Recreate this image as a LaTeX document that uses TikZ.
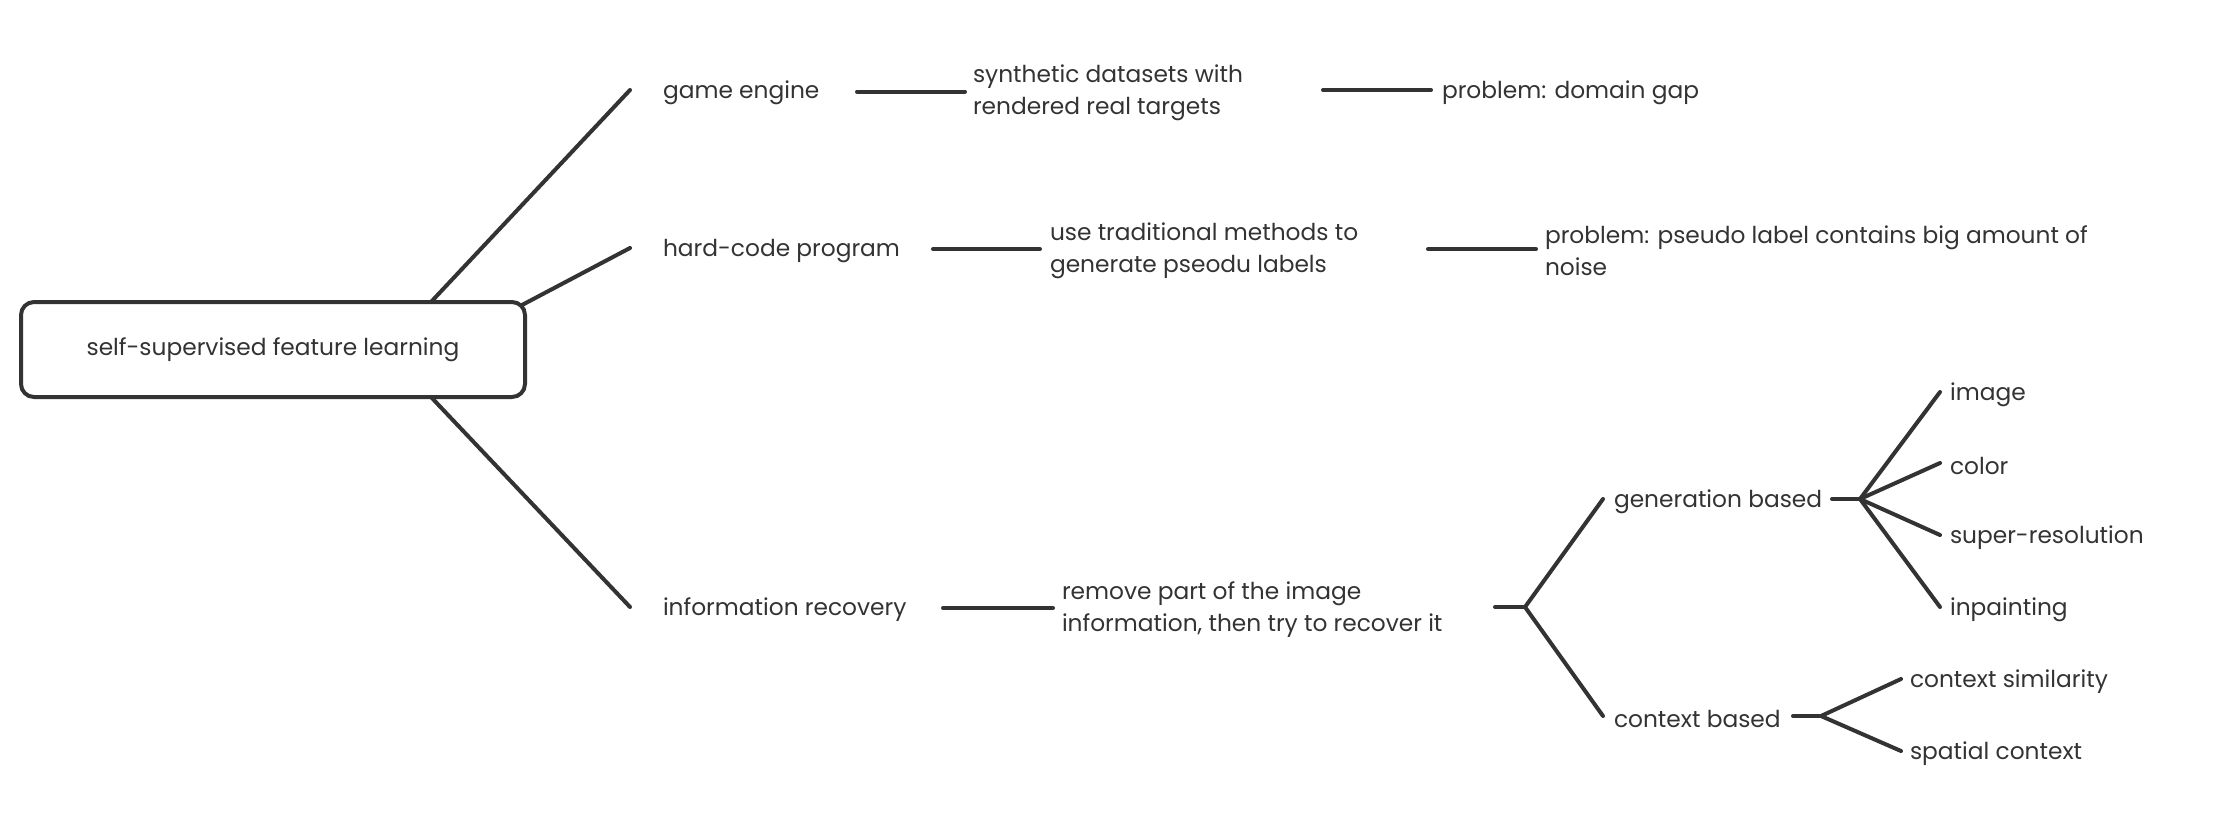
\documentclass[tikz,border=0pt]{standalone}
\usepackage{fontspec}
\setmainfont{Poppins}
\definecolor{ink}{HTML}{333333}
\begin{document}
\begin{tikzpicture}[x=1pt,y=-1pt,
  txt/.style={anchor=west,inner sep=0pt,outer sep=0pt,align=left,text=ink,yshift=-3pt,font=\fontsize{23.3}{32}\selectfont},
  txtt/.style={txt,yshift=1.5pt},
  rootbox/.style={draw=ink,line width=4pt,rounded corners=13pt,minimum width=504pt,minimum height=95pt,inner sep=0pt,outer sep=0pt,text=ink,font=\fontsize{23.3}{32}\selectfont},
  conn/.style={draw=ink,line width=4pt,line cap=round,line join=round}]
\useasboundingbox (0,0) rectangle (2224,828);
% nodes
\node[rootbox] (root) at (273,349.5) {\raisebox{-3pt}{self-supervised feature learning}};
\node[txt] (ge) at (663,90) {game engine};
\node[txtt] (syn) at (973,91.5) {synthetic datasets with\\rendered real targets};
\node[txt] (pdg) at (1442,90) {problem: domain gap};
\node[txt] (hc) at (663,248) {hard-code program};
\node[txtt] (use) at (1050,249) {use traditional methods to\\generate pseodu labels};
\node[txtt] (pp) at (1545,249) {problem: pseudo label contains big amount of\\noise};
\node[txt] (ir) at (663,607) {information recovery};
\node[txtt] (rm) at (1062,608) {remove part of the image\\information, then try to recover it};
\node[txt] (gb) at (1614,499) {generation based};
\node[txt] (cb) at (1614,716) {context based};
\node[txt] (img) at (1950,392) {image};
\node[txt] (col) at (1950,463) {color};
\node[txt] (sr) at (1950,535) {super-resolution};
\node[txt] (inp) at (1950,607) {inpainting};
\node[txt] (cs) at (1910,679) {context similarity};
\node[txt] (sc) at (1910,751) {spatial context};
% junction points of the forks
\coordinate (f1) at (1525,607);
\coordinate (f2) at (1860,499);
\coordinate (f3) at (1821,716);
% root branches
\draw[conn] ([xshift=158pt]root.north) -- ([xshift=-33pt,yshift=3pt]ge.west);
\draw[conn] ([xshift=-3pt,yshift=-3pt]root.north east) -- ([xshift=-33pt,yshift=3pt]hc.west);
\draw[conn] ([xshift=158pt]root.south) -- ([xshift=-33pt,yshift=3pt]ir.west);
% stubs between neighbouring texts
\draw[conn] ([xshift=-116pt,yshift=1.5pt]syn.west) -- ([xshift=-8pt,yshift=1.5pt]syn.west);
\draw[conn] ([xshift=-119pt,yshift=3pt]pdg.west) -- ([xshift=-11pt,yshift=3pt]pdg.west);
\draw[conn] ([xshift=-117pt,yshift=1.5pt]use.west) -- ([xshift=-10pt,yshift=1.5pt]use.west);
\draw[conn] ([xshift=-117pt,yshift=1.5pt]pp.west) -- ([xshift=-9pt,yshift=1.5pt]pp.west);
\draw[conn] ([xshift=-119pt,yshift=1.5pt]rm.west) -- ([xshift=-9pt,yshift=1.5pt]rm.west);
% forks
\draw[conn] ([xshift=-30pt]f1) -- (f1);
\draw[conn] (f1) -- ([xshift=-11pt,yshift=3pt]gb.west);
\draw[conn] (f1) -- ([xshift=-11pt,yshift=3pt]cb.west);
\draw[conn] ([xshift=-28pt]f2) -- (f2);
\draw[conn] (f2) -- ([xshift=-10pt,yshift=3pt]img.west);
\draw[conn] (f2) -- ([xshift=-10pt,yshift=3pt]col.west);
\draw[conn] (f2) -- ([xshift=-10pt,yshift=3pt]sr.west);
\draw[conn] (f2) -- ([xshift=-10pt,yshift=3pt]inp.west);
\draw[conn] ([xshift=-28pt]f3) -- (f3);
\draw[conn] (f3) -- ([xshift=-9pt,yshift=3pt]cs.west);
\draw[conn] (f3) -- ([xshift=-9pt,yshift=3pt]sc.west);
\end{tikzpicture}
\end{document}
